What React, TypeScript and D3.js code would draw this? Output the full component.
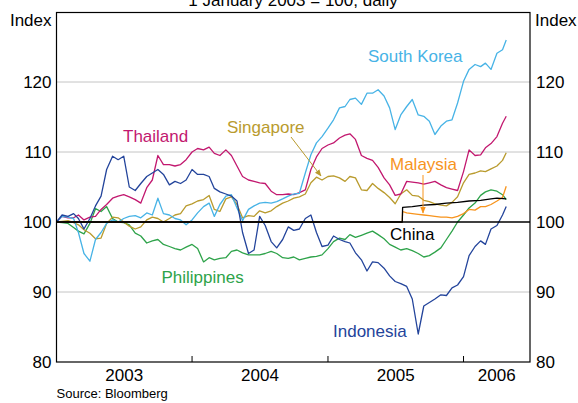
import React from "react";
import * as d3 from "d3";

// semi-monthly sample dates, 1 Jan 2003 .. late Apr 2006
const months = d3.timeMonth.range(new Date(2003, 0, 1), new Date(2006, 4, 1));
const dates = months
  .flatMap((m) => [m, d3.timeDay.offset(m, 15)])
  .concat([new Date(2006, 3, 26)]);

const southKorea = [
  100, 100.8, 100.7, 100.5, 98.5, 95.5, 94.4, 97.5, 98.5, 99.8,
  100.3, 100.0, 100.5, 100.8, 100.9, 100.6, 101.3, 101.0, 103.4, 101.2,
  101.0, 100.5, 100.3, 99.6, 100.3, 101.3, 102.2, 102.7, 100.8, 102.5,
  103.7, 103.9, 102.0, 100.2, 101.8, 102.3, 102.7, 102.8, 102.7, 102.9,
  103.3, 103.7, 104.0, 104.1, 107.0, 109.6, 111.3, 112.2, 113.4, 114.6,
  116.3, 116.5, 117.5, 117.7, 116.8, 118.4, 118.4, 118.9, 118.0, 116.3,
  113.2, 115.3, 116.5, 117.5, 115.3, 115.1, 114.4, 112.5, 113.7, 114.4,
  114.6, 117.0, 120.1, 121.8, 122.5, 122.2, 122.7, 121.8, 124.1, 124.6,
  126.0,
];

const thailand = [
  100, 100.8, 100.6, 100.6, 101.0, 100.3, 100.7, 100.8, 101.8, 102.5,
  103.4, 103.7, 103.9, 103.6, 103.2, 102.7, 104.9, 106.0, 109.5, 108.2,
  108.2, 108.0, 108.2, 108.9, 110.0, 110.5, 110.3, 110.7, 109.8, 109.5,
  110.3, 109.5, 108.0, 106.5, 106.0, 105.8, 105.6, 105.5, 104.4, 103.9,
  103.9, 104.0, 103.9, 104.2, 104.6, 107.5, 109.3, 110.5, 111.0, 111.3,
  112.0, 112.4, 112.6, 111.8, 109.5, 109.1, 108.8, 107.8, 106.3, 105.3,
  103.8, 104.0, 105.8, 105.7, 105.6, 105.4, 105.6, 105.8, 105.3, 104.9,
  104.7, 104.5, 107.2, 110.3, 109.5, 109.6, 110.6, 111.2, 112.2, 114.1,
  115.1,
];

const singapore = [
  100, 100.1, 100.2, 99.9, 99.6, 98.9, 98.4, 97.6, 97.7, 99.8,
  100.7, 100.6, 100.0, 99.4, 99.0, 99.3, 100.3, 100.7, 100.5, 100.0,
  100.5, 101.0, 101.2, 102.3, 102.6, 103.0, 103.2, 103.8, 101.8, 101.5,
  103.3, 103.6, 102.5, 100.6, 100.9, 100.8, 101.6, 101.3, 101.6, 102.2,
  102.7, 103.0, 103.4, 103.6, 104.0, 105.6, 106.4, 106.0, 106.5, 106.6,
  106.3, 105.8, 106.5, 106.3, 104.6, 104.5, 105.5, 104.8, 104.2, 103.5,
  102.6, 104.0, 104.6, 103.8, 103.7, 103.1, 102.9, 102.6, 102.4, 102.3,
  102.8, 103.6, 105.6, 106.8, 107.0, 107.3, 107.2, 107.6, 108.0, 108.8,
  109.9,
];

const philippines = [
  100, 99.9, 99.8, 99.2, 98.7, 98.3, 99.8, 101.9, 101.5, 102.2,
  100.5, 100.0, 99.9, 99.6, 98.4, 98.0, 97.0, 97.3, 97.5, 96.8,
  96.5, 96.2, 96.0, 96.4, 96.8, 96.2, 94.3, 94.9, 94.6, 94.8,
  94.9, 95.8, 96.0, 95.6, 95.3, 95.3, 95.3, 95.5, 95.8, 95.5,
  94.9, 94.8, 95.0, 94.6, 94.8, 95.0, 95.1, 95.3, 96.2, 97.2,
  97.7, 97.5, 98.2, 97.8, 98.1, 98.4, 98.7, 98.2, 97.6, 96.8,
  96.4, 96.0, 96.2, 95.9, 95.5, 95.0, 95.2, 95.7, 96.3, 97.5,
  98.7, 100.0, 101.0, 102.0, 102.7, 103.8, 104.3, 104.6, 104.4, 103.9,
  103.2,
];

const indonesia = [
  100, 101.0, 100.8, 101.2, 100.5, 99.0, 100.5, 102.3, 103.7, 107.5,
  109.4, 108.9, 109.4, 105.0, 104.5, 105.5, 106.5, 107.0, 107.5, 106.8,
  105.3, 105.8, 105.5, 106.0, 107.5, 106.8, 106.8, 106.5, 104.8, 104.3,
  104.0, 103.7, 103.0, 98.5, 95.5, 96.0, 100.8, 99.5, 97.2, 96.3,
  97.5, 99.3, 98.8, 99.0, 100.5, 101.0, 98.5, 96.5, 96.7, 98.0,
  97.5, 97.2, 97.0, 95.6, 94.6, 93.0, 94.3, 94.2, 93.4, 92.3,
  91.5, 91.2, 90.8, 89.0, 84.0, 88.0, 88.5, 89.0, 89.6, 89.5,
  90.6, 91.0, 92.2, 95.2, 96.5, 97.3, 96.8, 99.0, 99.5, 101.0,
  102.2,
];

// pegged currencies: own dates
const malaysiaDates = [
  "2003-01-01", "2005-07-20", "2005-07-21", "2005-08-01", "2005-08-16",
  "2005-09-01", "2005-09-16", "2005-10-01", "2005-10-16", "2005-11-01",
  "2005-11-16", "2005-12-01", "2005-12-16", "2006-01-01", "2006-01-16",
  "2006-02-01", "2006-02-16", "2006-03-01", "2006-03-16", "2006-04-01",
  "2006-04-16", "2006-04-26",
];
const malaysia = [
  100, 100, 101.5, 101.3, 101.2, 101.1, 101.0, 100.9, 100.8, 100.7,
  100.7, 100.6, 100.8, 101.2, 101.8, 101.7, 102.2, 102.2, 102.5, 103.0,
  103.5, 105.1,
];

const chinaDates = [
  "2003-01-01", "2005-07-20", "2005-07-21", "2005-08-16", "2005-09-16",
  "2005-10-16", "2005-11-16", "2005-12-16", "2006-01-16", "2006-02-16",
  "2006-03-16", "2006-04-01", "2006-04-26",
];
const china = [
  100, 100, 102.1, 102.2, 102.4, 102.5, 102.7, 102.8, 103.0, 103.1,
  103.3, 103.4, 103.3,
];

const yTicks = [80, 90, 100, 110, 120];
const years = [2003, 2004, 2005, 2006];

const parse = d3.timeParse("%Y-%m-%d");

const font = "'Liberation Sans', Arial, Helvetica, sans-serif";

export default function App() {
  const left = 56.5;
  const right = 530;
  const top = 12.5;
  const bottom = 362;

  const x = d3
    .scaleTime()
    .domain([new Date(2003, 0, 1), new Date(2006, 5, 29)])
    .range([left, right]);
  const y = d3.scaleLinear().domain([80, 130]).range([bottom, 12]);

  const line = d3
    .line<[Date, number]>()
    .x((d) => x(d[0]))
    .y((d) => y(d[1]));

  const onGrid = (vals: number[]) =>
    line(vals.map((v, i) => [dates[i], v] as [Date, number])) || "";
  const onDates = (ds: string[], vals: number[]) =>
    line(vals.map((v, i) => [parse(ds[i]) as Date, v] as [Date, number])) || "";

  const series = [
    { name: "Philippines", values: onGrid(philippines), color: "#2ea34a" },
    { name: "Singapore", values: onGrid(singapore), color: "#b99b2e" },
    { name: "Thailand", values: onGrid(thailand), color: "#c2186f" },
    { name: "South Korea", values: onGrid(southKorea), color: "#47b3e6" },
    { name: "Indonesia", values: onGrid(indonesia), color: "#23449b" },
    { name: "Malaysia", values: onDates(malaysiaDates, malaysia), color: "#f7941d" },
    { name: "China", values: onDates(chinaDates, china), color: "#000000" },
  ];

  const labels = [
    { text: "South Korea", x: 368, y: 62, color: "#47b3e6" },
    { text: "Thailand", x: 123, y: 141.5, color: "#c2186f" },
    { text: "Singapore", x: 227, y: 133, color: "#b99b2e" },
    { text: "Malaysia", x: 390, y: 170, color: "#f7941d" },
    { text: "China", x: 390, y: 240, color: "#000000" },
    { text: "Philippines", x: 161.5, y: 283, color: "#2ea34a" },
    { text: "Indonesia", x: 333, y: 337, color: "#23449b" },
  ];

  const yearMid = (yr: number) => {
    const a = x(new Date(yr, 0, 1));
    const b = Math.min(x(new Date(yr + 1, 0, 1)), right);
    return (a + b) / 2;
  };

  return (
    <svg
      width={578}
      height={403}
      style={{ position: "absolute", left: 0, top: 0, background: "#fff" }}
      fontFamily={font}
    >
      <defs>
        <marker id="arrGold" viewBox="0 0 10 10" refX="9" refY="5"
          markerWidth="7" markerHeight="7" orient="auto">
          <path d="M0,1 L10,5 L0,9 z" fill="#b99b2e" />
        </marker>
        <marker id="arrOrange" viewBox="0 0 10 10" refX="9" refY="5"
          markerWidth="7" markerHeight="7" orient="auto">
          <path d="M0,1 L10,5 L0,9 z" fill="#f7941d" />
        </marker>
        <clipPath id="plot">
          <rect x={left} y={top} width={right - left} height={bottom - top} />
        </clipPath>
      </defs>

      {/* title, cut off at the top */}
      <text x={293} y={6} textAnchor="middle" fontSize={17} fill="#000">
        1 January 2003 = 100, daily
      </text>
      <text x={51.5} y={26} textAnchor="end" fontSize={17}>Index</text>
      <text x={535} y={26} textAnchor="start" fontSize={17}>Index</text>

      {/* grid */}
      {yTicks
        .filter((t) => t !== 80 && t !== 100)
        .map((t) => (
          <line key={t} x1={left} x2={right} y1={y(t)} y2={y(t)}
            stroke="#c4c4c4" strokeWidth={1} />
        ))}

      {/* y labels */}
      {yTicks.map((t) => (
        <g key={t} fontSize={17}>
          <text x={51.5} y={y(t)} dy="0.36em" textAnchor="end">{t}</text>
          <text x={536} y={y(t)} dy="0.36em" textAnchor="start">{t}</text>
        </g>
      ))}

      {/* series */}
      <g clipPath="url(#plot)" fill="none" strokeWidth={1.3} strokeLinejoin="round">
        {series.map((s) => (
          <path key={s.name} d={s.values} stroke={s.color} />
        ))}
      </g>

      {/* 100 line */}
      <line x1={left} x2={right} y1={y(100)} y2={y(100)} stroke="#000" strokeWidth={1.5} />

      {/* labels */}
      {labels.map((l) => (
        <text key={l.text} x={l.x} y={l.y} fontSize={17} fill={l.color}>
          {l.text}
        </text>
      ))}
      <line x1={291} y1={137} x2={321} y2={176} stroke="#b99b2e" strokeWidth={1}
        markerEnd="url(#arrGold)" />
      <line x1={423} y1={175} x2={423} y2={213} stroke="#f7941d" strokeWidth={1}
        markerEnd="url(#arrOrange)" />

      {/* frame */}
      <rect x={left} y={top} width={right - left} height={bottom - top}
        fill="none" stroke="#000" strokeWidth={1.2} />

      {/* year ticks */}
      {years.slice(1).map((yr) => (
        <line key={yr} x1={x(new Date(yr, 0, 1))} x2={x(new Date(yr, 0, 1))}
          y1={bottom} y2={bottom - 6} stroke="#000" strokeWidth={1} />
      ))}
      {years.map((yr) => (
        <text key={yr} x={yearMid(yr)} y={381} textAnchor="middle" fontSize={17}>
          {yr}
        </text>
      ))}

      <text x={56.5} y={398} fontSize={13}>Source: Bloomberg</text>
    </svg>
  );
}
